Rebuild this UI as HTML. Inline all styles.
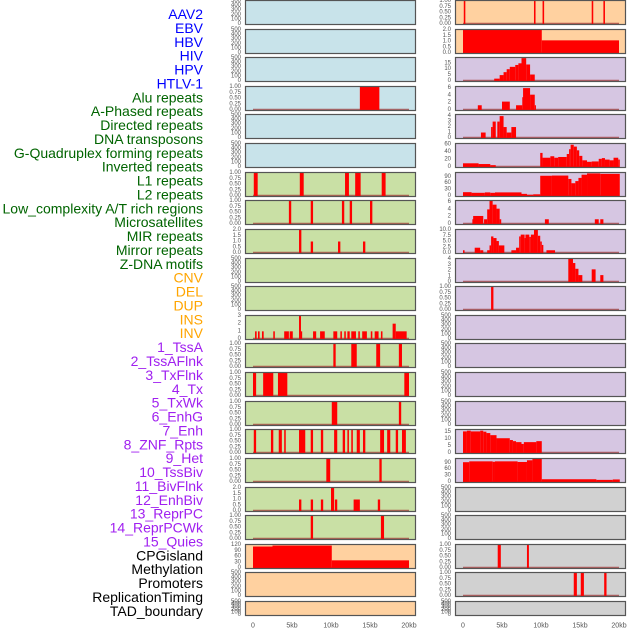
<!DOCTYPE html>
<html><head><meta charset="utf-8">
<style>
html,body{margin:0;padding:0;background:#fff;}
svg{display:block;font-family:"Liberation Sans",sans-serif;}
</style></head>
<body>
<svg id="chart" width="630" height="630" viewBox="0 0 630 630" xmlns="http://www.w3.org/2000/svg"></svg>
<script>
const trackLabels=["AAV2","EBV","HBV","HIV","HPV","HTLV-1","Alu repeats","A-Phased repeats","Directed repeats","DNA transposons","G-Quadruplex forming repeats","Inverted repeats","L1 repeats","L2 repeats","Low_complexity A/T rich regions","Microsatellites","MIR repeats","Mirror repeats","Z-DNA motifs","CNV","DEL","DUP","INS","INV","1_TssA","2_TssAFlnk","3_TxFlnk","4_Tx","5_TxWk","6_EnhG","7_Enh","8_ZNF_Rpts","9_Het","10_TssBiv","11_BivFlnk","12_EnhBiv","13_ReprPC","14_ReprPCWk","15_Quies","CPGisland","Methylation","Promoters","ReplicationTiming","TAD_boundary"];
const trackGroup=["v","v","v","v","v","v","r","r","r","r","r","r","r","r","r","r","r","r","r","s","s","s","s","s","c","c","c","c","c","c","c","c","c","c","c","c","c","c","c","o","o","o","o","o"];
const E=["0","100","200","300","400","500"],T1=["0.00","0.25","0.50","0.75","1.00"],T2=["0.0","0.5","1.0","1.5","2.0"];
const yTicks=[E,E,E,T1,E,E,T1,T1,T2,E,E,["0","1","2","3"],T1,T1,T1,T1,T1,T2,T1,["0","30","60","90","120"],E,E,
 T1,T2,["0","5","10","15"],["0","2","4","6"],["0","1","2","3","4"],["0","20","40","60"],["0","30","60","90"],["0","2","4","6"],["0.0","2.5","5.0","7.5","10.0"],["0","1","2","3","4"],T1,E,E,E,E,["0","5","10","15"],["0","30","60","90"],E,E,T1,T1,E];
const yMax=[500,500,500,1,500,500,1,1,2,500,500,3,1,1,1,1,1,2,1,120,500,500,
 1,2,19.5,6.3,4.2,62,108,6.3,10,4,1,500,500,500,500,16.5,108,500,500,1,1,500];
const series=[[],[],[],[[13.7,16.2,1]],[],[],
[[0.1,0.6,1],[6.0,6.5,1],[11.8,12.3,1],[13.1,13.8,1],[16.5,17.0,1]],
[[4.6,4.9,1],[7.4,7.7,1],[11.4,11.7,1],[12.4,12.7,1],[15.0,15.3,1]],
[[5.9,6.2,2],[7.4,7.7,1],[10.9,11.2,1],[14.1,14.4,1]],[],[],
[[0.26,0.47,1],[0.64,0.85,1],[1.15,1.37,1],[2.6,2.8,1],[4.0,4.6,1],[4.7,5.1,1],[5.9,6.15,3],[6.15,6.3,1],[7.7,8.1,1],[8.6,9.2,1],[10.3,10.8,1],[11.2,11.4,1],[11.7,11.9,1],[12.1,12.4,1],[12.6,13.2,1],[13.5,13.7,1],[14.0,14.6,1],[15.1,15.3,1],[15.6,16.1,1],[16.4,16.6,1],[17.9,18.3,2],[18.3,19.7,1]],
[[10.3,10.6,1],[12.6,13.3,1],[15.8,16.3,1],[18.7,19.1,1]],
[[0,0.4,1],[1.3,2.6,1],[3.2,4.4,1],[19.4,20,1]],
[[10.1,10.8,1],[18.7,19.0,1]],
[[0.1,0.4,1],[2.3,2.6,1],[3.3,3.7,1],[4.0,4.2,1],[5.9,6.7,1],[7.4,7.7,1],[8.7,9.0,1],[10.4,10.8,1],[11.5,11.8,1],[12.1,12.3,1],[12.6,12.8,1],[13.3,13.7,1],[14.1,14.4,1],[16.3,16.8,1],[17.2,17.6,1],[18.3,18.6,1],[19.1,19.6,1]],
[[9.4,9.9,1],[16.2,16.5,1]],
[[5.9,6.2,1],[7.4,7.7,1],[8.7,9.0,1],[10.0,10.4,2],[10.5,10.8,1],[12.9,13.7,1],[16.0,16.3,1]],
[[7.4,7.7,1],[16.4,16.8,1]],
[[0,2.5,112],[2.5,10.1,117],[10.1,20,40]],[],[],
[[0.1,0.3,1],[9.1,9.3,1],[10.2,10.4,1],[16.5,16.7,1],[18.0,18.2,1]],
[[0,10.1,2],[10.1,20,1.1]],
[[4.0,4.7,2],[4.7,5.2,5],[5.2,5.6,7.5],[5.6,6.0,10],[6.0,6.7,12],[6.7,7.1,13.6],[7.1,7.5,15],[7.5,8.1,19.4],[8.1,8.6,14],[8.6,9.2,5.5]],
[[1.9,2.4,1.3],[5.0,6.0,2.3],[6.8,7.6,1.3],[7.6,7.7,3.5],[7.7,8.6,6],[8.6,9.2,4.2],[9.2,9.3,1.3]],
[[2.3,2.9,1],[3.6,3.8,2],[3.8,4.2,3],[4.4,4.7,3],[4.7,5.2,4],[5.2,5.6,2],[5.6,6.2,1],[6.2,6.8,2]],
[[0,2.0,10],[2.0,3.5,8],[3.5,4.2,5],[9.9,10.2,38],[10.2,11.2,25],[11.2,11.7,29],[11.7,12.2,25],[12.2,13.3,27],[13.3,13.6,35],[13.6,13.8,48],[13.8,14.2,60],[14.2,14.6,55],[14.6,14.9,45],[14.9,15.3,30],[15.3,15.9,18],[15.9,16.5,14],[16.5,17.4,15],[17.4,17.8,22],[17.8,18.2,24],[18.2,18.8,20],[18.8,19.3,18],[19.3,19.9,25],[19.9,20.1,20]],
[[0,1.1,18],[1.1,2.8,15],[2.8,3.5,17],[3.5,4.1,15],[4.1,7.5,17],[7.5,8.2,10],[8.2,9.0,6],[9.0,9.9,8],[9.9,11.4,95],[11.4,13.5,96],[13.5,13.9,80],[13.9,14.4,60],[14.4,14.8,70],[14.8,15.2,85],[15.2,15.9,100],[15.9,17.6,106],[17.6,20.1,104]],
[[1.2,1.3,1.3],[1.3,2.6,2.2],[2.7,3.1,1.3],[3.1,3.4,4],[3.4,3.8,6.3],[3.8,4.3,5.3],[4.3,4.7,4.2],[4.7,4.9,1.3],[10.5,11.0,1.3],[16.9,17.4,1.3],[17.6,18.0,1.3]],
[[0,0.2,1.2],[1.5,2.2,2.3],[2.2,2.6,1.2],[3.1,3.4,1.2],[3.4,3.6,3.3],[3.6,3.9,7.2],[3.9,4.3,6.5],[4.3,4.6,5.2],[4.6,5.3,3.3],[6.2,6.8,1.2],[6.8,7.2,2.3],[7.2,7.4,7.2],[7.4,7.9,8],[7.9,8.0,6.5],[8.0,8.5,8],[8.5,8.7,7],[8.7,9.1,8],[9.1,9.6,10],[9.6,9.9,7.5],[9.9,10.1,5],[10.1,10.3,3.5],[10.7,11.8,1.2]],
[[13.5,14.1,4],[14.1,14.4,3.3],[14.4,14.8,2.3],[14.8,15.3,1.2],[16.5,17.0,2.2],[17.6,18.0,1.2]],
[[3.6,3.9,1]],[],[],[],[],
[[0,0.5,15.5],[0.5,1.0,16],[1.0,2.2,15.5],[2.2,2.6,16],[2.6,3.0,15.3],[3.0,3.5,14.3],[3.5,4.3,12.8],[4.3,6.0,10.6],[6.0,6.4,9.3],[6.4,6.8,8.5],[6.8,7.5,7.8],[7.5,7.8,6.5],[7.8,9.4,7.8],[9.4,10.1,8.5]],
[[0,0.8,93],[0.8,3.8,97],[3.8,4.1,95],[4.1,7.0,97],[7.0,8.2,94],[8.2,8.9,102],[8.9,10.1,108],[10.1,17.1,13],[17.1,19.2,10],[19.2,20.1,12]],
[],[],
[[4.45,4.85,1],[8.2,8.45,1]],
[[14.2,14.6,1],[15.1,15.5,1],[18.1,18.4,1]],
[]];
const xTicks=[0,5,10,15,20];
const xTickLabels=["0","5kb","10kb","15kb","20kb"];

const NS="http://www.w3.org/2000/svg";
const svg=document.getElementById('chart');
function mk(tag,attrs,parent){const e=document.createElementNS(NS,tag);for(const k in attrs)e.setAttribute(k,attrs[k]);(parent||svg).appendChild(e);return e;}
const bgCol={v:"#c8e3ea",r:"#c9e0a5",s:"#ffd1a0",c:"#d6c6e2",o:"#d1d1d1"};
const txtCol={v:"#0000ff",r:"#006400",s:"#ffa500",c:"#a020f0",o:"#000000"};
const KB=7.8;
function xScale(col,kb){return (col===0?253:463)+kb*KB;}

// labels
trackLabels.forEach((lab,i)=>{
  const t=mk('text',{x:203,y:14+i*13.88,'text-anchor':'end','dominant-baseline':'central','font-size':14,fill:txtCol[trackGroup[i]]});
  t.textContent=lab;
  
  
});

for(let i=0;i<44;i++){
  const col=i<22?0:1, r=i%22;
  const top=Math.round(r*28.62), h=r===21?15:25;
  const px0=col===0?245:455;
  const g=mk('g',{});
  
  
  mk('rect',{x:px0,y:top,width:171,height:h,fill:bgCol[trackGroup[i]]},g);
  const max=yMax[i], y0=top+h-1, y1=top+1;
  const ys=v=>y0-(v/max)*(y0-y1);
  const segs=series[i];
  if(segs.length){
    const bl=mk('line',{x1:xScale(col,0),x2:xScale(col,20),y1:y0-0.5,y2:y0-0.5,stroke:"#a03030",'stroke-opacity':0.7,'stroke-width':1.5},g);
    
    
  }
  segs.forEach(s=>{
    const xa=xScale(col,s[0]), xb=xScale(col,s[1]);
    const b=mk('rect',{x:xa,y:ys(s[2]),width:Math.max(1.2,xb-xa),height:y0-ys(s[2])+1,fill:"#ff0000"},g);
    
    
  });
  mk('rect',{x:px0+0.5,y:top+0.5,width:170,height:h-1,fill:"none",stroke:"#555",'stroke-width':1.2},g);
  const tk=yTicks[i];
  tk.forEach(lbl=>{
    const v=parseFloat(lbl);
    const t=mk('text',{x:px0-4,y:ys(v),'text-anchor':'end','dominant-baseline':'central','font-size':6,fill:"#555"},g);
    t.textContent=lbl;
    
    
  });
}
for(let col=0;col<2;col++){
  xTicks.forEach((v,k)=>{
    const t=mk('text',{x:xScale(col,v),y:626,'text-anchor':'middle','dominant-baseline':'central','font-size':7,fill:"#555"});
    t.textContent=xTickLabels[k];
    
    
  });
}
</script>
</body></html>
